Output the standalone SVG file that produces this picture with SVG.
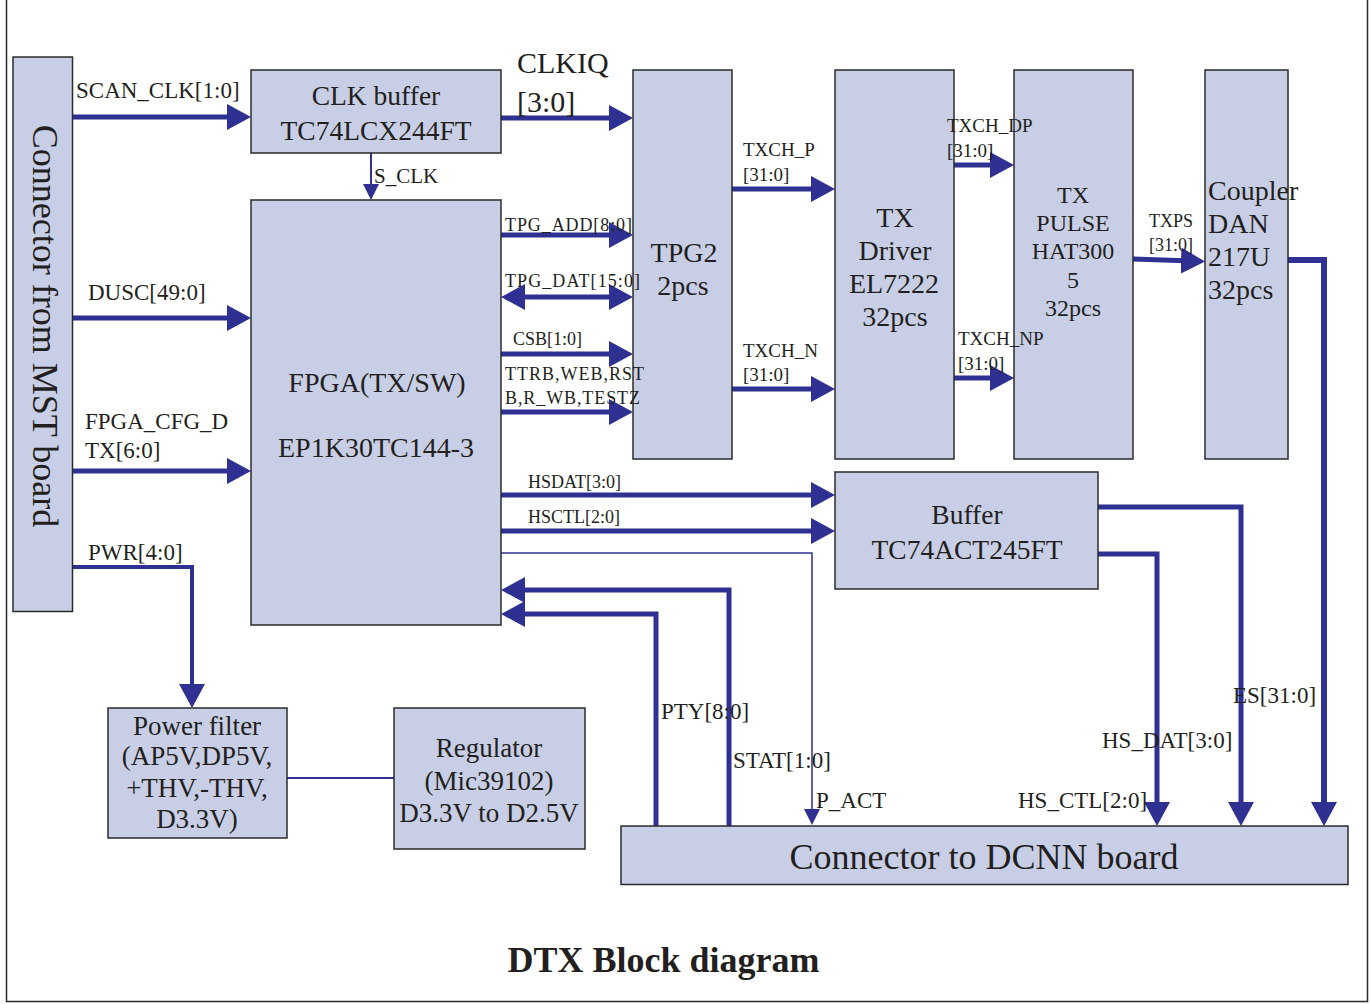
<svg xmlns="http://www.w3.org/2000/svg" width="1370" height="1004" viewBox="0 0 1370 1004">
<style>
text{font-family:"Liberation Serif","Times New Roman",serif;fill:#231f20}
.box{fill:#c8cee6;stroke:#2b2b2b;stroke-width:1.5}
.w{fill:none;stroke:#2e3192;stroke-width:5}
.t{fill:none;stroke:#2e3192;stroke-width:2}
.c{text-anchor:middle}
.big{font-size:28px}
.mid{font-size:27.5px}
.lbl{font-size:23px}
.sm{font-size:18px}
.tx{font-size:19px}
</style>
<defs>
<marker id="ah" markerUnits="userSpaceOnUse" markerWidth="24" markerHeight="26" refX="12" refY="13" orient="auto-start-reverse">
<path d="M0,0 L24,13 L0,26 Z" fill="#2e3192"/>
</marker>
<marker id="sa" markerUnits="userSpaceOnUse" markerWidth="16" markerHeight="16" refX="9" refY="8" orient="auto">
<path d="M0,0 L16,8 L0,16 Z" fill="#2e3192"/>
</marker>
</defs>
<rect x="0" y="0" width="1370" height="1004" fill="#ffffff"/>
<path id="frame" d="M6.5,0 V1001.5 H1367.5 V0" fill="none" stroke="#2b2b2b" stroke-width="1.5"/>

<g id="connectors">
<path class="w" d="M73,117 H239" marker-end="url(#ah)"/>
<path class="w" d="M501,118 H621" marker-end="url(#ah)"/>
<path class="t" d="M371,153 V193" marker-end="url(#sa)"/>
<path class="w" d="M73,318 H239" marker-end="url(#ah)"/>
<path class="w" d="M73,471 H239" marker-end="url(#ah)"/>
<path class="w" d="M73,567 H192 V696" style="stroke-width:4" marker-end="url(#ah)"/>
<path class="w" d="M501,235 H621" marker-end="url(#ah)"/>
<path class="w" d="M513,297 H621" marker-start="url(#ah)" marker-end="url(#ah)"/>
<path class="w" d="M501,354 H621" marker-end="url(#ah)"/>
<path class="w" d="M501,412 H621" marker-end="url(#ah)"/>
<path class="w" d="M732,189 H823" marker-end="url(#ah)"/>
<path class="w" d="M732,389 H823" marker-end="url(#ah)"/>
<path class="w" d="M954,165 H1002" marker-end="url(#ah)"/>
<path class="w" d="M954,378 H1002" marker-end="url(#ah)"/>
<path class="w" d="M1133,259 L1193,261" marker-end="url(#ah)"/>
<path class="w" d="M1288,260 H1324 V814" style="stroke-width:6" marker-end="url(#ah)"/>
<path class="w" d="M501,495 H823" marker-end="url(#ah)"/>
<path class="w" d="M501,531 H823" marker-end="url(#ah)"/>
<path class="t" d="M501,553 H812 V818" style="stroke-width:1.5" marker-end="url(#sa)"/>
<path class="w" d="M729,826 V590 H513" marker-end="url(#ah)"/>
<path class="w" d="M656,826 V614 H513" marker-end="url(#ah)"/>
<path class="w" d="M1098,507 H1241 V814" marker-end="url(#ah)"/>
<path class="w" d="M1098,554 H1157 V814" marker-end="url(#ah)"/>
<path class="t" d="M287,778 H394"/>
</g>

<g id="mst-connector">
<rect class="box" x="13" y="57" width="59.5" height="554.5"/>
<text transform="translate(43,326) rotate(90)" class="c" dy="10" style="font-size:36px">Connector from MST board</text>
</g>

<g id="clk-buffer">
<rect class="box" x="251" y="70" width="250" height="83"/>
<text class="c mid" x="376" y="105">CLK buffer</text>
<text class="c mid" x="376" y="140">TC74LCX244FT</text>
</g>

<g id="fpga">
<rect class="box" x="251" y="200" width="250" height="425"/>
<text class="c big" x="377" y="392">FPGA(TX/SW)</text>
<text class="c big" x="376" y="457">EP1K30TC144-3</text>
</g>

<g id="tpg2">
<rect class="box" x="633" y="70" width="99" height="389"/>
<text class="c big" x="684" y="262">TPG2</text>
<text class="c big" x="683" y="295">2pcs</text>
</g>

<g id="tx-driver">
<rect class="box" x="835" y="70" width="119" height="389"/>
<text class="c big" x="895" y="227">TX</text>
<text class="c big" x="895" y="260">Driver</text>
<text class="c big" x="894" y="293">EL7222</text>
<text class="c big" x="895" y="326">32pcs</text>
</g>

<g id="tx-pulse">
<rect class="box" x="1014" y="70" width="119" height="389"/>
<text class="c" x="1073" y="203" style="font-size:24px">TX</text>
<text class="c" x="1073" y="231" style="font-size:24px">PULSE</text>
<text class="c" x="1073" y="259" style="font-size:24px">HAT300</text>
<text class="c" x="1073" y="288" style="font-size:24px">5</text>
<text class="c" x="1073" y="316" style="font-size:24px">32pcs</text>
</g>

<g id="coupler">
<rect class="box" x="1205" y="70" width="83" height="389"/>
<text class="big" x="1208" y="200">Coupler</text>
<text class="big" x="1208" y="233">DAN</text>
<text class="big" x="1208" y="266">217U</text>
<text class="big" x="1208" y="299">32pcs</text>
</g>

<g id="buffer">
<rect class="box" x="835" y="472" width="263" height="117"/>
<text class="c mid" x="967" y="524">Buffer</text>
<text class="c mid" x="967" y="559">TC74ACT245FT</text>
</g>

<g id="power-filter">
<rect class="box" x="108" y="708" width="179" height="130"/>
<text class="c" x="197" y="735" style="font-size:27px">Power filter</text>
<text class="c" x="197" y="765" style="font-size:27px">(AP5V,DP5V,</text>
<text class="c" x="197" y="797" style="font-size:27px">+THV,-THV,</text>
<text class="c" x="197" y="828" style="font-size:27px">D3.3V)</text>
</g>

<g id="regulator">
<rect class="box" x="394" y="708" width="191" height="141"/>
<text class="c" x="489" y="757" style="font-size:27px">Regulator</text>
<text class="c" x="489" y="790" style="font-size:27px">(Mic39102)</text>
<text class="c" x="489" y="822" style="font-size:27px">D3.3V to D2.5V</text>
</g>

<g id="dcnn-connector">
<rect class="box" x="621" y="826" width="727" height="58.5"/>
<text class="c" x="984" y="869" style="font-size:36px">Connector to DCNN board</text>
</g>

<g id="connector-labels">
<text class="lbl" x="76" y="98">SCAN_CLK[1:0]</text>
<text x="517" y="73" style="font-size:30px">CLKIQ</text>
<text x="517" y="112" style="font-size:30px">[3:0]</text>
<text x="374" y="183" style="font-size:21px">S_CLK</text>
<text class="lbl" x="88" y="300">DUSC[49:0]</text>
<text class="lbl" x="85" y="429">FPGA_CFG_D</text>
<text class="lbl" x="85" y="458">TX[6:0]</text>
<text class="lbl" x="88" y="560">PWR[4:0]</text>
<text class="sm" x="505" y="231" textLength="127" lengthAdjust="spacing">TPG_ADD[8:0]</text>
<text class="sm" x="505" y="287" textLength="135" lengthAdjust="spacing">TPG_DAT[15:0]</text>
<text class="sm" x="513" y="345">CSB[1:0]</text>
<text class="sm" x="505" y="380" textLength="139" lengthAdjust="spacing">TTRB,WEB,RST</text>
<text class="sm" x="505" y="404" textLength="135" lengthAdjust="spacing">B,R_WB,TESTZ</text>
<text class="tx" x="743" y="156">TXCH_P</text>
<text class="tx" x="743" y="181">[31:0]</text>
<text class="tx" x="743" y="357">TXCH_N</text>
<text class="tx" x="743" y="381">[31:0]</text>
<text class="tx" x="947" y="132">TXCH_DP</text>
<text class="tx" x="947" y="157">[31:0]</text>
<text class="tx" x="958" y="345">TXCH_NP</text>
<text class="tx" x="958" y="370">[31:0]</text>
<text class="sm" x="1149" y="227">TXPS</text>
<text class="sm" x="1149" y="251">[31:0]</text>
<text class="sm" x="528" y="488">HSDAT[3:0]</text>
<text class="sm" x="528" y="523">HSCTL[2:0]</text>
<text class="lbl" x="661" y="719">PTY[8:0]</text>
<text class="lbl" x="733" y="768">STAT[1:0]</text>
<text class="lbl" x="816" y="808">P_ACT</text>
<text class="lbl" x="1018" y="808">HS_CTL[2:0]</text>
<text class="lbl" x="1102" y="748">HS_DAT[3:0]</text>
<text class="lbl" x="1233" y="703">ES[31:0]</text>
</g>

<text id="title" class="c" x="663.5" y="972" style="font-size:36px;font-weight:bold">DTX Block diagram</text>
</svg>
